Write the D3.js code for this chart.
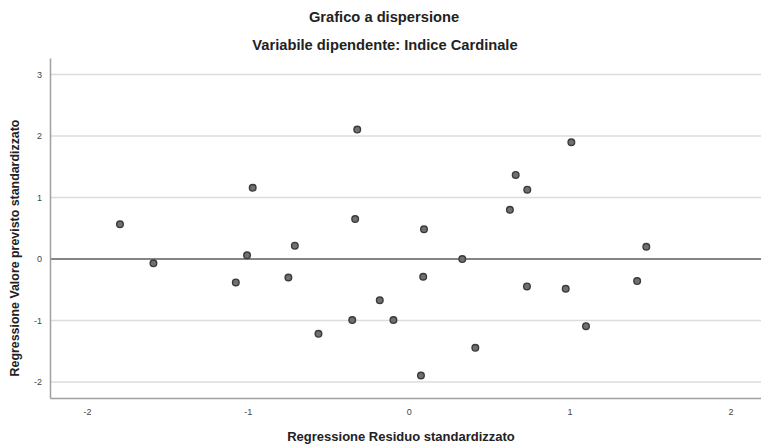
<!DOCTYPE html>
<html>
<head>
<meta charset="utf-8">
<script src="https://cdn.jsdelivr.net/npm/d3@7"></script>
<style>
  body { margin: 0; background: #fff; }
  svg { display: block; font-family: "Liberation Sans", Arial, sans-serif; }
</style>
</head>
<body>
<svg id="chart"></svg>
<script>
// residui standardizzati (x) e valori previsti standardizzati (y)
var residui = [-1.795, -1.587, -1.075, -1.005, -0.97, -0.748, -0.708, -0.561, -0.351,
    -0.333, -0.32, -0.18, -0.095, 0.076, 0.09, 0.095, 0.333, 0.414, 0.629, 0.665,
    0.735, 0.737, 0.976, 1.011, 1.102, 1.42, 1.477];
var previsti = [0.565, -0.07, -0.38, 0.06, 1.16, -0.30, 0.217, -1.216, -0.993,
    0.65, 2.106, -0.67, -0.993, -1.894, -0.288, 0.483, 0.0, -1.444, 0.80, 1.368,
    -0.445, 1.129, -0.483, 1.90, -1.091, -0.358, 0.2];
var xTicks = [-2, -1, 0, 1, 2];
var yTicks = [-2, -1, 0, 1, 2, 3];

var dimensions = {
    width: 761,
    height: 444,
    margin: { top: 58, bottom: 46, right: 0, left: 50 }
}

var svg = d3.select("#chart")
    .attr("width", dimensions.width)
    .attr("height", dimensions.height)

var x0 = dimensions.margin.left
var x1 = dimensions.width - dimensions.margin.right
var y0 = dimensions.height - dimensions.margin.bottom
var y1 = dimensions.margin.top

var xScale = d3.scaleLinear()
    .domain([-2.23, 2.19])
    .range([x0, x1])

var yScale = d3.scaleLinear()
    .domain([-2.26, 3.27])
    .range([y0, y1])

// gridlines orizzontali
svg.append("g")
    .selectAll("line")
    .data(yTicks.filter(function(d) { return d !== 0 }))
    .enter()
    .append("line")
    .attr("x1", x0).attr("x2", x1)
    .attr("y1", function(d) { return yScale(d) })
    .attr("y2", function(d) { return yScale(d) })
    .attr("stroke", "#dcdcdc")
    .attr("stroke-width", 1.5)

// linea di riferimento y = 0
svg.append("line")
    .attr("x1", x0).attr("x2", x1)
    .attr("y1", yScale(0)).attr("y2", yScale(0))
    .attr("stroke", "#858585")
    .attr("stroke-width", 2)

// assi (trattino semplice come segno meno, come in SPSS)
var fmt = function(d) { return String(d) }
var xAxis = d3.axisBottom(xScale).tickValues(xTicks).tickFormat(fmt).tickSize(0).tickPadding(11)
var yAxis = d3.axisLeft(yScale).tickValues(yTicks).tickFormat(fmt).tickSize(0).tickPadding(8)

svg.append("g")
    .attr("transform", "translate(0," + y0 + ")")
    .call(xAxis)
svg.append("g")
    .attr("transform", "translate(" + x0 + ",0)")
    .call(yAxis)

svg.selectAll(".domain").attr("stroke", "#a0a0a0").attr("stroke-width", 1.5)
svg.selectAll(".tick text")
    .attr("fill", "#444")
    .style("font-size", "9px")
    .style("font-family", "'Liberation Sans', Arial, sans-serif")

// punti
svg.append("g")
    .selectAll("circle")
    .data(residui.map(function(r, i) { return [r, previsti[i]] }))
    .enter()
    .append("circle")
    .attr("cx", function(d) { return xScale(d[0]) })
    .attr("cy", function(d) { return yScale(d[1]) })
    .attr("r", 3.3)
    .attr("fill", "#707070")
    .attr("stroke", "#3a3a3a")
    .attr("stroke-width", 1.4)

// titoli
svg.append("text")
    .attr("x", 384).attr("y", 22)
    .attr("text-anchor", "middle")
    .style("font-size", "14.7px").style("font-weight", "bold")
    .attr("fill", "#222")
    .text("Grafico a dispersione")

svg.append("text")
    .attr("x", 385).attr("y", 50)
    .attr("text-anchor", "middle")
    .style("font-size", "14.7px").style("font-weight", "bold")
    .attr("fill", "#222")
    .text("Variabile dipendente: Indice Cardinale")

svg.append("text")
    .attr("x", 401).attr("y", 441)
    .attr("text-anchor", "middle")
    .style("font-size", "13px").style("font-weight", "bold")
    .attr("fill", "#222")
    .text("Regressione Residuo standardizzato")

svg.append("text")
    .attr("transform", "translate(19,248) rotate(-90)")
    .attr("text-anchor", "middle")
    .style("font-size", "12.4px").style("font-weight", "bold")
    .attr("fill", "#222")
    .text("Regressione Valore previsto standardizzato")
</script>
</body>
</html>
